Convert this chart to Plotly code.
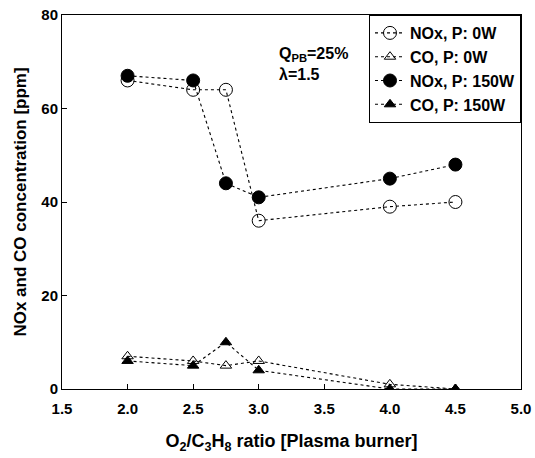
import plotly.graph_objects as go

x_vals = [2.0, 2.5, 2.75, 3.0, 4.0, 4.5]
nox_0w = [66, 64, 64, 36, 39, 40]
co_0w = [7, 6, 5, 6, 1, 0]
nox_150w = [67, 66, 44, 41, 45, 48]
co_150w = [6, 5, 10, 4, 0, 0]

x_ticks = [1.5, 2.0, 2.5, 3.0, 3.5, 4.0, 4.5, 5.0]
y_ticks = [0, 20, 40, 60, 80]

FONT = "Liberation Sans, Arial, sans-serif"

series = [
    ("NOx, P: 0W", nox_0w, "circle-open", 13),
    ("CO, P: 0W", co_0w, "triangle-up-open", 10),
    ("NOx, P: 150W", nox_150w, "circle", 13),
    ("CO, P: 150W", co_150w, "triangle-up", 10),
]

fig = go.Figure()
for name, ys, sym, size in series:
    fig.add_trace(go.Scatter(
        x=x_vals, y=ys, name=name, mode="lines+markers",
        line=dict(color="black", width=1.1, dash="dot"),
        marker=dict(symbol=sym, size=size, color="black",
                    line=dict(color="black", width=1)),
    ))

fig.update_layout(
    width=535, height=458,
    margin=dict(l=62, r=14, t=15, b=69),
    paper_bgcolor="white", plot_bgcolor="white",
    font=dict(family=FONT, size=15, color="black"),
    showlegend=True,
    legend=dict(
        x=1, y=1, xanchor="right", yanchor="top",
        bordercolor="black", borderwidth=1, bgcolor="white",
        font=dict(family=FONT, size=16, color="black", weight="bold"),
        itemwidth=30, tracegroupgap=0,
    ),
    xaxis=dict(
        range=[1.5, 5.0], tickvals=x_ticks,
        ticktext=[f"{v:.1f}" for v in x_ticks],
        ticks="inside", ticklen=5, tickcolor="black",
        showline=True, linecolor="black", linewidth=1, mirror=True,
        showgrid=False, zeroline=False, ticklabelstandoff=6,
        automargin=False,
        tickfont=dict(family=FONT, size=15, weight="bold"),
        title=dict(text="O<sub>2</sub>/C<sub>3</sub>H<sub>8</sub> ratio [Plasma burner]",
                   font=dict(family=FONT, size=18, weight="bold"), standoff=18),
    ),
    yaxis=dict(
        range=[0, 80], tickvals=y_ticks,
        ticks="inside", ticklen=5, tickcolor="black",
        showline=True, linecolor="black", linewidth=1, mirror=True,
        showgrid=False, zeroline=False, automargin=False,
        tickfont=dict(family=FONT, size=15, weight="bold"),
        title=dict(text="NOx and CO concentration [ppm]",
                   font=dict(family=FONT, size=17, weight="bold"), standoff=10),
    ),
)
fig.add_annotation(
    x=3.14, y=71.5, xref="x", yref="y", xanchor="left", yanchor="middle",
    showarrow=False, align="left",
    text="Q<sub>PB</sub>=25%",
    font=dict(family=FONT, size=16, color="black", weight="bold"))
fig.add_annotation(
    x=3.14, y=67.3, xref="x", yref="y", xanchor="left", yanchor="middle",
    showarrow=False, align="left",
    text="λ=1.5",
    font=dict(family=FONT, size=16, color="black", weight="bold"))

fig.write_html("out.html")
